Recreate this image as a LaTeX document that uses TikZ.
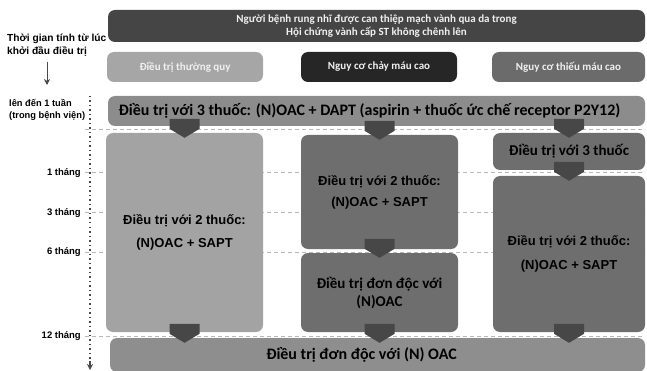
\documentclass[tikz,border=0pt]{standalone}
\usepackage{fontspec}
\setmainfont{Carlito}
\newfontfamily\arialf{Liberation Sans}
\definecolor{headdark}{HTML}{454545}
\definecolor{routinegray}{HTML}{A6A6A6}
\definecolor{bleeddark}{HTML}{262626}
\definecolor{ischgray}{HTML}{6B6B6B}
\definecolor{triplegray}{HTML}{8C8C8C}
\definecolor{lightcol}{HTML}{A3A3A3}
\definecolor{midcol}{HTML}{6E6E6E}
\definecolor{monogray}{HTML}{8E8E8E}
\definecolor{markfill}{HTML}{474747}
\definecolor{gridgray}{HTML}{B8B8B8}
\definecolor{axisgray}{HTML}{4A4A4A}
\definecolor{softwhite}{HTML}{F0F0F0}
\usepackage{tikz}
\usetikzlibrary{arrows.meta}

\begin{document}
\begin{tikzpicture}[x=1pt, y=-1pt,
		box/.style={fill=#1, rounded corners=7pt, inner sep=0pt, align=center, font=\bfseries},
		toptext/.style={text=softwhite, font=\bfseries\fontsize{11}{13}\selectfont},
		bigtext/.style={text=black, font=\bfseries\fontsize{16}{18}\selectfont},
		armtext/.style={text=black, font=\arialf\bfseries\fontsize{13}{15}\selectfont},
		ticklabel/.style={anchor=east, inner sep=0pt, font=\arialf\bfseries\fontsize{9.5}{11}\selectfont},
		gridline/.style={draw=gridgray, line width=1pt, dash pattern=on 4pt off 3pt},
		arrow/.style={-{Stealth[length=6pt, width=6pt]}, thick, color=axisgray},
		chev/.pic={\fill[markfill] (-15,-14) -- (15,-14) -- (15,-4) -- (0,5) -- (-15,-4) -- cycle;}
	]
	\useasboundingbox (0,0) rectangle (647,371);

	% Time axis with month marks
	\foreach \y/\t/\n in {173/1 tháng/mone, 213/3 tháng/mthree, 252/6 tháng/msix, 336/12 tháng/mtwelve} {
		\node[ticklabel] (\n) at (81,\y) {\t};
		\draw[gridline] (\n.east) ++(4,0) -- ++(560,0);
	}
	\coordinate (wkline) at (85,130);
	\draw[gridline] (wkline) -- ++(560,0);
	\coordinate (axtop) at (90,96);
	\coordinate (axtip) at (90,361);
	\coordinate (axbot) at (90,370);
	\draw[axisgray, line width=1.3pt, dash pattern=on 1.5pt off 3pt] (axtop) -- (axtip);
	\draw[arrow, line width=1.3pt] (axtip) -- (axbot);

	% Left side labels
	\node[anchor=north west, inner sep=0pt, align=left, font=\arialf\bfseries\fontsize{10.2}{13}\selectfont] (timelbl) at (7,34) {Thời gian tính từ lúc\\khởi đầu điều trị};
	\coordinate (timeend) at (47,85);
	\draw[arrow, semithick] (timelbl.south -| timeend) ++(0,5) -- (timeend);
	\node[anchor=west, inner sep=0pt, align=left, font=\arialf\bfseries\fontsize{9.3}{12}\selectfont] (weeklbl) at (9,110) {lên đến 1 tuần\\(trong bệnh viện)};

	% Top rows
	\node[box=headdark, toptext, minimum width=537, minimum height=32] (hdr) at (376.5,26) {Người bệnh rung nhĩ được can thiệp mạch vành qua da trong\\Hội chứng vành cấp ST không chênh lên};
	\node[box=routinegray, toptext, minimum width=156, minimum height=30] (routine) at (185,67) {Điều trị thường quy};
	\node[box=bleeddark, toptext, minimum width=156, minimum height=30] (bleed) at (379,67) {Nguy cơ chảy máu cao};
	\node[box=ischgray, toptext, minimum width=153, minimum height=30] (isch) at (568.5,67) {Nguy cơ thiếu máu cao};
	\node[box=triplegray, bigtext, minimum width=537, minimum height=30] (triple) at (376.5,111) {Điều trị với 3 thuốc: (N)OAC + DAPT (aspirin + thuốc ức chế receptor P2Y12)\hspace*{14pt}};

	% Three arms
	\node[box=lightcol, armtext, minimum width=157, minimum height=199] (dualA) at (184.5,232.5) {Điều trị với 2 thuốc:\\[8pt](N)OAC + SAPT};
	\node[box=midcol, armtext, minimum width=157, minimum height=114] (dualB) at (379.5,192) {Điều trị với 2 thuốc:\\[6pt](N)OAC + SAPT};
	\node[box=midcol, text=black, font=\bfseries\fontsize{15}{17}\selectfont, minimum width=157, minimum height=79] (monoB) at (379.5,292.5) {Điều trị đơn độc với\\[1pt](N)OAC};
	\node[box=midcol, text=black, font=\bfseries\fontsize{15}{17}\selectfont, minimum width=152, minimum height=37] (tripleC) at (569,151.5) {Điều trị với 3 thuốc};
	\node[box=midcol, armtext, minimum width=152, minimum height=156] (dualC) at (569,254) {Điều trị với 2 thuốc:\\[9pt](N)OAC + SAPT};

	% Bottom row
	\node[box=monogray, bigtext, minimum width=535, minimum height=34] (mono) at (377.5,355) {Điều trị đơn độc với (N) OAC\hspace*{32pt}};

	% Step markers
	\pic at (dualA.north) {chev};
	\pic at (dualB.north) {chev};
	\pic at (tripleC.north) {chev};
	\pic at (dualC.north) {chev};
	\pic at (monoB.north) {chev};
	\pic at (dualA |- mono.north) {chev};
	\pic at (dualB |- mono.north) {chev};
	\pic at (dualC |- mono.north) {chev};
\end{tikzpicture}
\end{document}
